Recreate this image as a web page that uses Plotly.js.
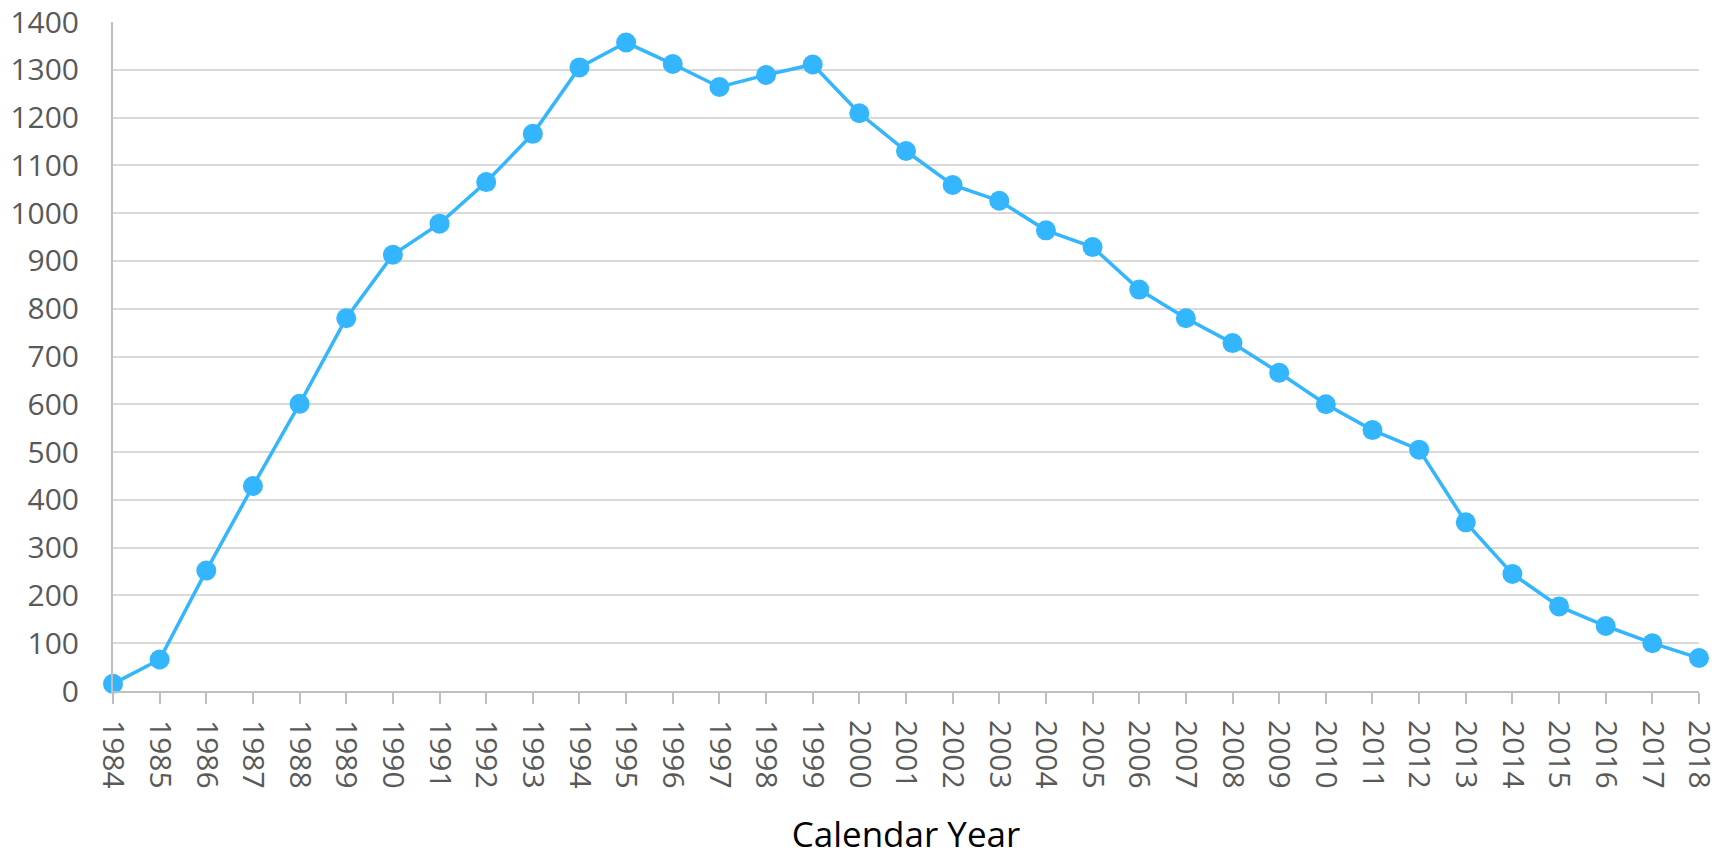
<!DOCTYPE html>
<html><head><meta charset="utf-8">
<script src="https://cdn.plot.ly/plotly-3.0.1.min.js"></script>
<style>html,body{margin:0;padding:0;background:#fff;}#chart{width:1723px;height:857px;}</style>
</head><body><div id="chart"></div>
<script>
const years = [1984,1985,1986,1987,1988,1989,1990,1991,1992,1993,1994,1995,1996,1997,1998,1999,2000,2001,2002,2003,2004,2005,2006,2007,2008,2009,2010,2011,2012,2013,2014,2015,2016,2017,2018];
const values = [15,66,252,429,601,780,913,978,1065,1166,1305,1357,1312,1264,1289,1311,1209,1130,1059,1026,964,929,840,780,728,666,600,546,505,353,245,177,136,100,69];
const yTicks = [0,100,200,300,400,500,600,700,800,900,1000,1100,1200,1300,1400];
const xTitle = "Calendar Year";

const trace = {
  x: years, y: values, type: 'scatter', mode: 'lines+markers',
  line: {color: '#33b6fd', width: 3.5},
  marker: {color: '#33b6fd', size: 20},
  cliponaxis: false, hoverinfo: 'x+y'
};
const layout = {
  width: 1723, height: 857,
  margin: {l: 113, r: 24, t: 22, b: 166},
  paper_bgcolor: '#fff', plot_bgcolor: '#fff',
  showlegend: false,
  font: {family: 'Open Sans, sans-serif', color: '#595959'},
  xaxis: {
    range: [1984, 2018], tickmode: 'array', tickvals: years, ticktext: years.map(String),
    tickangle: 90, tickfont: {size: 30, color: '#595959'},
    showgrid: false, zeroline: false,
    showline: true, linecolor: '#bfbfbf', linewidth: 2,
    ticks: 'outside', ticklen: 11, tickcolor: '#bfbfbf', tickwidth: 2,
    ticklabelstandoff: 10, ticklabeloverflow: 'allow',
    title: {text: xTitle, font: {size: 35, color: '#000', family: 'Open Sans, sans-serif'}, standoff: 40}
  },
  yaxis: {
    range: [0, 1400], tickmode: 'array', tickvals: yTicks,
    tickfont: {size: 30, color: '#595959'},
    showgrid: true, gridcolor: '#d9d9d9', gridwidth: 2,
    zeroline: false, showline: true, linecolor: '#bfbfbf', linewidth: 2,
    ticks: '', ticklabelstandoff: 26, ticklabeloverflow: 'allow'
  }
};
Plotly.newPlot('chart', [trace], layout, {displayModeBar: false, staticPlot: true});
</script></body></html>
